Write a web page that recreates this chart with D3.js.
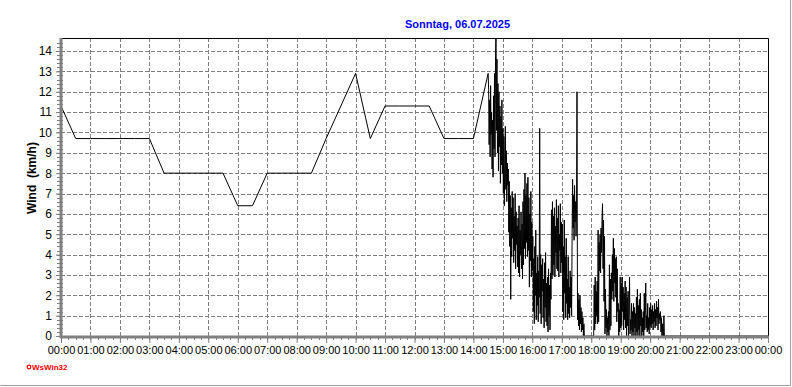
<!DOCTYPE html>
<html>
<head>
<meta charset="utf-8">
<script src="https://cdn.jsdelivr.net/npm/d3@7"></script>
<style>
  body { margin: 0; background: #fff; }
  svg { display: block; font-family: "Liberation Sans", Arial, sans-serif; }
</style>
</head>
<body>
<div id="vis"></div>
<script>
// Wind chart, Sonntag 06.07.2025

const FRAME_WIDTH = 792;
const FRAME_HEIGHT = 387;
const MARGINS = {left: 61, right: 24, top: 38, bottom: 51};

const TITLE = "Sonntag, 06.07.2025";
const Y_LABEL = "Wind  (km/h)";
const hourLabels = ["00:00","01:00","02:00","03:00","04:00","05:00","06:00","07:00",
  "08:00","09:00","10:00","11:00","12:00","13:00","14:00","15:00","16:00","17:00",
  "18:00","19:00","20:00","21:00","22:00","23:00","00:00"];
const yTicks = [0,1,2,3,4,5,6,7,8,9,10,11,12,13,14];

// half-hourly values until the afternoon
const earlyTimes = ["00:00","00:30","01:00","01:30","02:00","02:30","03:00","03:30",
  "04:00","04:30","05:00","05:30","06:00","06:30","07:00","07:30","08:00","08:30",
  "09:00","09:30","10:00","10:30","11:00","11:30","12:00","12:30","13:00","13:30",
  "14:00","14:30"];
const earlyValues = [11.3,9.7,9.7,9.7,9.7,9.7,9.7,8.0,
  8.0,8.0,8.0,8.0,6.4,6.4,8.0,8.0,8.0,8.0,
  9.7,11.3,12.9,9.7,11.3,11.3,11.3,11.3,9.7,9.7,
  9.7,12.9];

// minute values, 14:31 .. 20:30
const minuteStart = "14:31";
const minuteValues = [
  12.1,9.4,11.6,8.8,12.3,9.9,11.0,8.2,10.6,7.8,
  11.8,9.2,12.9,8.8,13.5,15.5,10.1,13.6,9.0,12.4,
  8.1,12.0,9.3,11.3,7.5,10.8,8.4,11.6,8.0,10.2,
  7.0,9.8,6.4,8.9,10.3,7.2,9.1,6.6,8.5,7.4,
  8.2,5.1,7.6,4.4,6.9,1.8,6.3,3.9,7.1,4.8,
  6.8,3.6,5.9,4.2,7.0,3.3,6.1,4.5,5.4,3.4,
  5.8,3.1,6.4,2.9,5.2,4.0,6.1,3.3,5.5,2.8,
  6.6,3.5,7.2,4.3,8.0,3.8,6.9,4.6,7.5,3.9,
  7.8,4.2,6.8,2.4,6.0,3.7,7.1,2.9,5.6,3.2,
  4.9,1.2,3.8,0.6,4.4,2.0,5.2,0.8,3.1,1.5,
  3.9,0.7,3.2,1.9,10.2,1.1,4.0,0.6,3.5,2.2,
  3.8,0.9,2.8,0.4,3.6,1.4,4.1,0.7,2.6,0.5,
  2.9,0.2,3.3,1.0,2.5,0.3,3.1,1.8,6.2,2.8,
  6.6,3.0,5.9,3.5,6.3,2.9,5.4,4.1,6.7,3.3,
  5.8,3.2,6.4,2.9,5.0,4.2,6.5,3.1,5.6,3.6,
  5.5,1.2,4.4,0.8,5.7,2.1,3.9,0.9,4.8,1.6,
  2.8,0.8,3.9,1.1,2.4,0.9,3.2,1.4,2.9,1.0,
  4.8,7.7,5.3,6.9,4.7,7.4,5.6,6.6,4.9,6.2,
  12.0,0.8,2.1,0.5,1.8,0.3,2.0,0.6,1.4,0.2,
  1.2,0.3,0.9,0.0,0.6,0.0,0.0,0.0,0.0,0.0,
  0.0,0.0,0.0,0.0,0.0,0.0,0.0,0.0,0.0,0.0,
  0.0,0.0,0.0,0.0,0.0,2.5,0.3,2.9,0.6,2.2,
  1.0,2.7,0.6,5.2,0.7,4.6,3.2,5.0,3.1,5.3,
  4.1,5.8,6.5,3.3,5.7,1.7,4.9,0.1,2.3,0.4,
  1.3,0.0,0.9,0.2,1.2,0.0,3.5,0.3,2.8,0.5,
  3.1,1.8,4.0,2.2,4.8,1.7,4.3,2.6,3.8,1.9,
  3.9,0.7,3.3,1.2,1.6,0.0,1.3,0.2,2.9,0.4,
  2.6,0.5,2.9,1.2,2.4,0.3,2.1,0.8,2.7,0.4,
  2.4,0.0,1.9,0.5,2.2,0.0,1.0,2.9,0.1,0.8,
  0.3,1.6,0.0,1.2,0.2,1.6,0.0,1.4,0.4,1.1,
  0.0,1.9,0.2,2.3,0.0,1.5,0.3,1.8,0.0,2.1,
  0.5,1.3,0.0,0.9,0.2,1.2,0.0,2.1,0.3,1.0,
  2.6,0.4,1.0,0.2,1.6,0.3,0.9,0.1,1.4,0.5,
  1.6,0.4,1.3,0.6,1.5,0.3,1.2,0.7,1.6,0.4,
  1.3,0.5,1.7,0.9,1.4,0.3,1.8,0.6,1.1,0.8,
  1.2,0.2,0.9,0.0,0.6,0.0,0.0,1.0,0.0,0.0
];

// calm for the rest of the day
const lateTimes = ["20:31","24:00"];
const lateValues = [0, 0];

const VIS_WIDTH = FRAME_WIDTH - MARGINS.left - MARGINS.right;
const VIS_HEIGHT = FRAME_HEIGHT - MARGINS.top - MARGINS.bottom;

function toMin(s) {
  const p = s.split(":");
  return (+p[0]) * 60 + (+p[1]);
}

let points = earlyTimes.map((t, i) => ({m: toMin(t), v: earlyValues[i]}));
minuteValues.forEach((v, i) => points.push({m: toMin(minuteStart) + i, v: v}));
lateTimes.forEach((t, i) => points.push({m: toMin(t), v: lateValues[i]}));

const X_SCALE = d3.scaleLinear().domain([0, 1440]).range([0, VIS_WIDTH]);
const Y_SCALE = d3.scaleLinear().domain([0, 14.64]).range([VIS_HEIGHT, 0]);

const FRAME = d3.select("#vis")
  .append("svg")
    .attr("width", FRAME_WIDTH)
    .attr("height", FRAME_HEIGHT);

// outer panel edge
FRAME.append("path")
  .attr("d", "M0.5," + (FRAME_HEIGHT - 1.5) + "H" + (FRAME_WIDTH - 1.5) + "V0")
  .attr("fill", "none")
  .attr("stroke", "#a0a0a0");

const G = FRAME.append("g")
  .attr("transform", "translate(" + MARGINS.left + "," + MARGINS.top + ")");

// grid
G.selectAll(".hgrid")
  .data(yTicks.filter(d => d > 0))
  .enter()
  .append("line")
    .attr("x1", 0).attr("x2", VIS_WIDTH)
    .attr("y1", d => Math.round(Y_SCALE(d)) + 0.5)
    .attr("y2", d => Math.round(Y_SCALE(d)) + 0.5)
    .attr("stroke", "#808080")
    .attr("stroke-dasharray", "4,2");

G.selectAll(".vgrid")
  .data(d3.range(60, 1440, 60))
  .enter()
  .append("line")
    .attr("x1", d => Math.round(X_SCALE(d)) + 0.5)
    .attr("x2", d => Math.round(X_SCALE(d)) + 0.5)
    .attr("y1", 0).attr("y2", VIS_HEIGHT)
    .attr("stroke", "#808080")
    .attr("stroke-dasharray", "4,2");

// frame top / right
G.append("path")
  .attr("d", "M0,0.5H" + (VIS_WIDTH + 0.5) + "V" + VIS_HEIGHT)
  .attr("fill", "none")
  .attr("stroke", "#000");

// data line
G.append("clipPath").attr("id", "clip")
  .append("rect").attr("x", 0).attr("y", 0)
  .attr("width", VIS_WIDTH + 1).attr("height", VIS_HEIGHT);

G.append("path")
  .datum(points)
  .attr("clip-path", "url(#clip)")
  .attr("fill", "none")
  .attr("stroke", "#000")
  .attr("stroke-width", 1)
  .attr("d", d3.line().x(d => X_SCALE(d.m)).y(d => Y_SCALE(d.v)));

// minor ticks
G.selectAll(".yminor")
  .data(d3.range(0, 73).map(i => i * 0.2))
  .enter()
  .append("line")
    .attr("x1", -4).attr("x2", 2)
    .attr("y1", d => Math.round(Y_SCALE(d)) + 0.5)
    .attr("y2", d => Math.round(Y_SCALE(d)) + 0.5)
    .attr("stroke", "#808080");

G.selectAll(".xminor")
  .data(d3.range(0, 1441, 15))
  .enter()
  .append("line")
    .attr("x1", d => Math.round(X_SCALE(d)) + 0.5)
    .attr("x2", d => Math.round(X_SCALE(d)) + 0.5)
    .attr("y1", VIS_HEIGHT).attr("y2", VIS_HEIGHT + 4)
    .attr("stroke", "#808080");

// axes
const yAxis = G.append("g")
  .call(d3.axisLeft(Y_SCALE).tickValues(yTicks).tickSize(5).tickPadding(4));
yAxis.select(".domain").remove();
yAxis.selectAll("line").attr("stroke", "#808080");
yAxis.selectAll("text")
  .attr("font-size", "12px")
  .attr("fill", "#000")
  .attr("font-family", "Liberation Sans, Arial, sans-serif");

const xAxis = G.append("g")
  .attr("transform", "translate(0," + VIS_HEIGHT + ")")
  .call(d3.axisBottom(X_SCALE)
    .tickValues(d3.range(0, 1441, 60))
    .tickFormat((d, i) => hourLabels[i])
    .tickSize(7).tickPadding(3));
xAxis.select(".domain").remove();
xAxis.selectAll("line").attr("stroke", "#808080");
xAxis.selectAll("text")
  .attr("font-size", "11px")
  .attr("fill", "#000")
  .attr("font-family", "Liberation Sans, Arial, sans-serif");

// thick grey axis lines
G.append("line")
  .attr("x1", 0).attr("x2", 0)
  .attr("y1", 0).attr("y2", VIS_HEIGHT + 2)
  .attr("stroke", "#808080").attr("stroke-width", 3);
G.append("line")
  .attr("x1", -1).attr("x2", VIS_WIDTH + 1)
  .attr("y1", VIS_HEIGHT + 1).attr("y2", VIS_HEIGHT + 1)
  .attr("stroke", "#808080").attr("stroke-width", 3);

// title
FRAME.append("text")
  .attr("x", MARGINS.left + VIS_WIDTH / 2 + 43)
  .attr("y", 28)
  .attr("text-anchor", "middle")
  .attr("font-size", "11px")
  .attr("font-weight", "bold")
  .attr("fill", "#0000ff")
  .text(TITLE);

// y label
FRAME.append("text")
  .attr("transform", "translate(36,178) rotate(-90)")
  .attr("text-anchor", "middle")
  .attr("font-size", "12px")
  .attr("font-weight", "bold")
  .attr("fill", "#000")
  .style("white-space", "pre")
  .text(Y_LABEL);

// logo
FRAME.append("circle")
  .attr("cx", 29).attr("cy", 367).attr("r", 1.8)
  .attr("fill", "none").attr("stroke", "#ff0000").attr("stroke-width", 1.2);
FRAME.append("text")
  .attr("x", 32).attr("y", 370)
  .attr("font-size", "8px")
  .attr("font-weight", "bold")
  .attr("fill", "#ff0000")
  .text("WsWin32");
</script>
</body>
</html>
